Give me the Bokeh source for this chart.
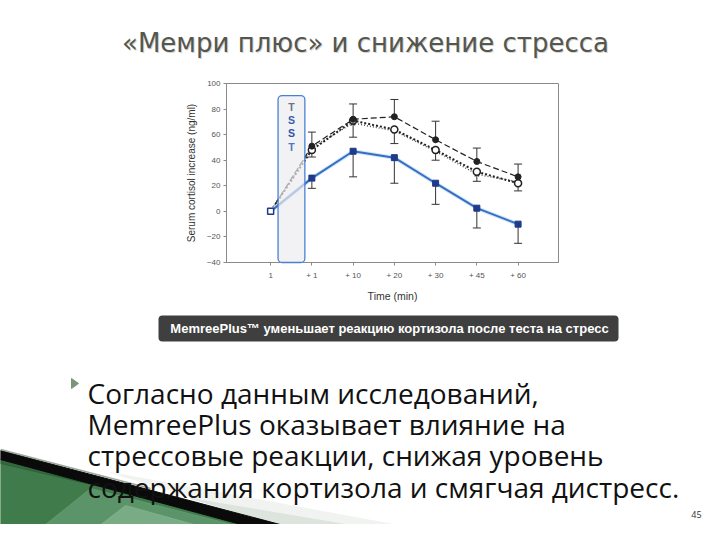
from bokeh.plotting import figure
from bokeh.models import Range1d, LinearAxis, FixedTicker, BoxAnnotation, Label
from bokeh.core.properties import value
from bokeh.embed import file_html
from bokeh.resources import INLINE

# ---------------- data ----------------
time_labels = ["1", "+ 1", "+ 10", "+ 20", "+ 30", "+ 45", "+ 60"]
y_ticks = [-40, -20, 0, 20, 40, 60, 80, 100]

memree = [0, 26, 47, 42, 22, 2.5, -10]
memree_err_lo = [0, 8, 20, 20, 16.5, 15.5, 15]

ctrl_a = [0, 51, 72, 74, 56, 39, 27]          # filled circles, dashed
ctrl_a_err_hi = [0, 11, 12, 13.5, 14.5, 10.5, 10]
ctrl_b = [0, 48, 71, 64, 48, 31, 22]          # open circles, dotted
ctrl_b_err_lo = [0, 5.5, 13, 11, 8, 7.5, 6]
ctrl_c = [0, 50, 69, 63, 47, 29, 23]          # crosses, dotted

tsst_letters = ["T", "S", "S", "T"]
tsst_letter_y = [82, 71.5, 61, 50.5]
tsst_colors = ["#6b7288", "#3560b0", "#2a55a8", "#4a78c8"]

title = "«Мемри плюс» и снижение стресса"
caption = "MemreePlus™ уменьшает реакцию кортизола после теста на стресс"
body_lines = [
    "Согласно данным исследований,",
    "MemreePlus оказывает влияние на",
    "стрессовые реакции, снижая уровень",
    "содержания кортизола и смягчая дистресс.",
]
page_number = "45"

# ---------------- layout constants ----------------
X_MIN, X_MAX = -1.07, 6.98
Y_MIN, Y_MAX = -40, 100
BOX_L, BOX_T, BOX_R, BOX_B = 226, 83, 558, 262    # chart frame on the slide (px)
PAGE_L, PAGE_T, PAGE_R, PAGE_B = 0, 0, 704, 524    # canvas on the slide (px)
TSST_L, TSST_R, TSST_TOP = 0.18, 0.83, 90.5

sx = (BOX_R - BOX_L) / (X_MAX - X_MIN)
sy = (BOX_B - BOX_T) / (Y_MAX - Y_MIN)
x_start = X_MIN - (BOX_L - PAGE_L) / sx
x_end = X_MAX + (PAGE_R - BOX_R) / sx
y_start = Y_MIN - (PAGE_B - BOX_B) / sy
y_end = Y_MAX + (BOX_T - PAGE_T) / sy

p = figure(width=704, height=524, x_range=Range1d(x_start, x_end),
           y_range=Range1d(y_start, y_end), output_backend="svg",
           toolbar_location=None, x_axis_type=None, y_axis_type=None,
           min_border=0)
p.outline_line_color = None
p.background_fill_color = "white"
p.extra_x_ranges = {"px": Range1d(PAGE_L, PAGE_R)}
p.extra_y_ranges = {"py": Range1d(PAGE_B, PAGE_T)}

PX = dict(x_range_name="px", y_range_name="py")

# ---------------- slide decoration ----------------
# bottom-left swoosh
p.patch([110, 335, 480], [472, 540, 540], color="#f1f3f1", **PX)
p.patch([190, 335, 440], [498, 540, 540], color="#dde3dd", **PX)
p.patch([0, 0, 300, 0], [459, 540, 540, 459], color="#3f7b4b", **PX)
p.patch([25, 90, 255, 280], [540, 488, 530, 540], color="#6a9f76", alpha=0.7, **PX)
p.patch([80, 125, 215, 235], [540, 505, 530, 540], color="#86b691", alpha=0.7, **PX)
p.patch([0, 300, 300, 0], [459, 540, 533, 463], color="#2b5a36", alpha=0.6, **PX)
p.patch([0, 340, 300, 0], [450, 540, 540, 459], color="#0a0a0a", **PX)
p.line([0, 150], [449, 488], line_color="#9aa79a", line_width=1.5, **PX)

# title
p.text(x=[366], y=[43], text=[title], text_align="center", text_baseline="middle",
       text_font=value("DejaVu Sans"), text_font_size="26px", text_color="#d5d5d0", **PX)
p.text(x=[365], y=[42], text=[title], text_align="center", text_baseline="middle",
       text_font=value("DejaVu Sans"), text_font_size="26px", text_color="#55564e", **PX)

# caption bar
cap_box = BoxAnnotation(left=158, right=618, top=315, bottom=341, fill_color="#3f3f3f",
                        fill_alpha=1, line_color=None, border_radius=4,
                        level="underlay", **PX)
p.add_layout(cap_box)
p.text(x=[389], y=[328], text=[caption], text_align="center", text_baseline="middle",
       text_font=value("Liberation Sans"), text_font_style="bold",
       text_font_size="13px", text_color="white", **PX)

# bullet + body text
p.patch([71, 78, 71], [378, 383, 388], color="#7a967a", **PX)
p.text(x=[87] * 4, y=[392, 423, 454, 486], text=body_lines, text_align="left",
       text_baseline="alphabetic", text_font=value("Open Sans"), text_font_size="28px",
       text_color="#111111", **PX)

p.text(x=[696], y=[514], text=[page_number], text_align="center", text_baseline="middle",
       text_font=value("Open Sans"), text_font_size="9px", text_color="#333333", **PX)

# ---------------- chart ----------------
xs = list(range(len(time_labels)))

p.quad(left=[X_MIN], right=[X_MAX], bottom=[Y_MIN], top=[Y_MAX], fill_color=None,
       line_color="#8a8a8a", line_width=1)

yax = LinearAxis(fixed_location=X_MIN, bounds=(Y_MIN, Y_MAX),
                 ticker=FixedTicker(ticks=y_ticks),
                 axis_label="Serum cortisol increase (ng/ml)")
xax = LinearAxis(fixed_location=Y_MIN, bounds=(X_MIN, X_MAX),
                 ticker=FixedTicker(ticks=xs),
                 major_label_overrides={i: lab for i, lab in enumerate(time_labels)},
                 axis_label="Time (min)")
for ax in (yax, xax):
    ax.axis_line_color = "#8a8a8a"
    ax.major_tick_line_color = "#8a8a8a"
    ax.minor_tick_line_color = None
    ax.major_tick_out = 3
    ax.major_tick_in = 0
    ax.major_label_text_font = "Liberation Sans"
    ax.major_label_text_font_size = "8px"
    ax.major_label_text_color = "#555555"
    ax.axis_label_text_font = "Liberation Sans"
    ax.axis_label_text_font_style = "normal"
    ax.axis_label_text_color = "#333333"
yax.axis_label_text_font_size = "10px"
yax.major_label_standoff = 3
yax.axis_label_standoff = 7
xax.axis_label_text_font_size = "10.5px"
xax.major_label_standoff = 5
xax.axis_label_standoff = 7
p.add_layout(yax, "left")
p.add_layout(xax, "below")

idx = xs[1:]

# error bars
mem_lo = [memree[i] - memree_err_lo[i] for i in idx]
a_hi = [ctrl_a[i] + ctrl_a_err_hi[i] for i in idx]
b_lo = [ctrl_b[i] - ctrl_b_err_lo[i] for i in idx]
p.segment(x0=idx, y0=[memree[i] for i in idx], x1=idx, y1=mem_lo,
          line_color="#333333", line_width=1)
p.segment(x0=idx, y0=[ctrl_a[i] for i in idx], x1=idx, y1=a_hi,
          line_color="#333333", line_width=1)
p.segment(x0=idx, y0=[ctrl_b[i] for i in idx], x1=idx, y1=b_lo,
          line_color="#333333", line_width=1)
for ends in (mem_lo, a_hi, b_lo):
    p.scatter(x=idx, y=ends, marker="dash", size=8, line_color="#333333", line_width=1)

# series lines
p.line(xs, ctrl_c, line_color="#555555", line_width=1.5, line_dash="1 2")
p.line(xs, ctrl_b, line_color="#222222", line_width=2, line_dash="2 2")
p.line(xs, ctrl_a, line_color="#222222", line_width=1.2, line_dash="6 3")
p.line(xs, memree, line_color="#cde9f8", line_width=4)
p.line(xs, memree, line_color="#3b6cc4", line_width=2)

# markers
p.scatter(idx, [ctrl_c[i] for i in idx], marker="x", size=6, line_color="#333333",
          line_width=1.3)
p.scatter(idx, [ctrl_b[i] for i in idx], marker="circle", size=7, fill_color="white",
          line_color="#222222", line_width=1.5)
p.scatter(idx, [ctrl_a[i] for i in idx], marker="circle", size=6, fill_color="#222222",
          line_color="#222222")
p.scatter(idx, [memree[i] for i in idx], marker="square", size=6, fill_color="#1f3a8a",
          line_color="#1f3a8a")
p.scatter(xs[:1], memree[:1], marker="square", size=6, fill_color="white",
          line_color="#1f3a8a", line_width=1.5)

# TSST period box
tsst = BoxAnnotation(left=TSST_L, right=TSST_R, bottom=Y_MIN, top=TSST_TOP,
                     fill_color="#ededf0", fill_alpha=0.7, line_color="#4a80d4",
                     line_alpha=1, line_width=1.3, border_radius=4)
p.add_layout(tsst)
for letter, ly, col in zip(tsst_letters, tsst_letter_y, tsst_colors):
    p.add_layout(Label(x=(TSST_L + TSST_R) / 2, y=ly, text=letter, text_align="center",
                       text_baseline="middle", text_font="Liberation Sans",
                       text_font_style="bold", text_font_size="10.5px", text_color=col))

open("out.html", "w").write(file_html(p, INLINE))
